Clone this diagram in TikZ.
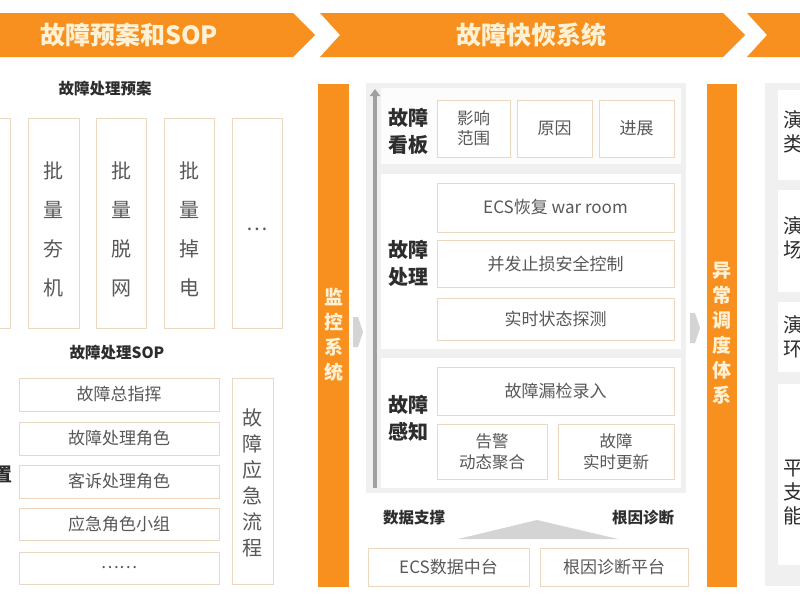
\documentclass[tikz,border=0pt]{standalone}
\usepackage{fontspec}
\setmainfont{Noto Sans CJK SC}
\usetikzlibrary{arrows.meta}
\definecolor{org}{RGB}{247,144,30}
\definecolor{cream}{RGB}{255,241,212}
\definecolor{bord}{RGB}{236,216,192}
\definecolor{txt}{RGB}{88,88,88}
\definecolor{dark}{RGB}{45,45,45}
\definecolor{pgray}{RGB}{240,240,240}
\definecolor{secbg}{RGB}{252,252,252}
\definecolor{agray}{RGB}{160,160,160}
\definecolor{lgray}{RGB}{212,212,212}
\begin{document}
\begin{tikzpicture}[x=1pt,y=-1pt,
  pbox/.style={draw=bord, line width=1pt, fill=white, inner sep=0pt},
  btext/.style={text=txt, font=\fontsize{17}{21}\selectfont, align=center, inner sep=0pt},
  vtext/.style={text=txt, font=\fontsize{20}{39}\selectfont, align=center, inner sep=0pt},
  htitle/.style={text=dark, font=\bfseries\fontsize{15.5}{18}\selectfont, inner sep=0pt},
  seclabel/.style={text=dark, font=\bfseries\fontsize{20}{27}\selectfont, align=center, inner sep=0pt},
  bartext/.style={text=cream, font=\bfseries\fontsize{19}{25}\selectfont, align=center, inner sep=0pt},
  bannertext/.style={text=cream, font=\bfseries\fontsize{25}{30}\selectfont, inner sep=0pt},
  orangebar/.style={fill=org, draw=none, inner sep=0pt},
  rtext/.style={text=dark, font=\fontsize{20}{24}\selectfont, align=center, inner sep=0pt}
]
\useasboundingbox (0,0) rectangle (800,600);
\clip (0,0) rectangle (800,600);
\fill[white] (0,0) rectangle (800,600);

% ---------- banners ----------
\fill[org] (-5,13) -- (293,13) -- (315,35) -- (293,57) -- (-5,57) -- cycle;
\fill[org] (320,13) -- (723,13) -- (745,35) -- (723,57) -- (320,57) -- (340,35) -- cycle;
\fill[org] (747,13) -- (810,13) -- (810,57) -- (747,57) -- (767,35) -- cycle;
\node[bannertext] (ban1) at (129,35) {故障预案和SOP};
\node[bannertext] (ban2) at (531,35) {故障快恢系统};

% ---------- left: 预案 ----------
\node[htitle] (yatitle) at (105,89) {故障处理预案};
\node[pbox, minimum width=40pt, minimum height=210pt] (c0) at (-10,223) {};
\node[pbox, minimum width=51pt, minimum height=210pt] (c1) at (53.5,223) {};
\node[pbox, minimum width=50pt, minimum height=210pt] (c2) at (121.5,223) {};
\node[pbox, minimum width=50pt, minimum height=210pt] (c3) at (189,223) {};
\node[pbox, minimum width=50pt, minimum height=210pt] (c4) at (257,223) {};
\node[vtext] (c1t) at (53.5,229) {批\\量\\夯\\机};
\node[vtext] (c2t) at (121.5,229) {批\\量\\脱\\网};
\node[vtext] (c3t) at (189,229) {批\\量\\掉\\电};
\node[vtext] (c4t) at (257,229) {…};

% ---------- left: SOP ----------
\node[htitle] (soptitle) at (117,353) {故障处理SOP};
\node[pbox, btext, minimum width=200pt, minimum height=33pt] (s1) at (119,394.5) {故障总指挥};
\node[pbox, btext, minimum width=200pt, minimum height=33pt] (s2) at (119,438.5) {故障处理角色};
\node[pbox, btext, minimum width=200pt, minimum height=33pt] (s3) at (119,481.5) {客诉处理角色};
\node[pbox, btext, minimum width=200pt, minimum height=32pt] (s4) at (119,524.5) {应急角色小组};
\node[pbox, btext, minimum width=200pt, minimum height=32pt] (s5) at (119,568) {……};
\node[pbox, minimum width=41pt, minimum height=206pt] (flow) at (252.5,481) {};
\node[text=txt, font=\fontsize{20}{26}\selectfont, align=center, inner sep=0pt] (flowt) at (252.5,483) {故\\障\\应\\急\\流\\程};
\node[text=dark, font=\bfseries\fontsize{19}{20}\selectfont, inner sep=0pt] (zhi) at (3,474) {置};

% ---------- middle: bars ----------
\node[orangebar, minimum width=31pt, minimum height=503pt] (mon) at (333.5,335.5) {};
\node[bartext] (mont) at (333.5,335) {监\\控\\系\\统};
\node[orangebar, minimum width=30pt, minimum height=503pt] (sch) at (722,335.5) {};
\node[bartext] (scht) at (722,333) {异\\常\\调\\度\\体\\系};
\fill[lgray] (353,317) -- (358,317) -- (363,332) -- (358,347) -- (353,347) -- cycle;
\fill[lgray] (690,313) -- (695,313) -- (700,328) -- (695,343) -- (690,343) -- cycle;

% ---------- middle: panel ----------
\fill[pgray] (366,83) rectangle (686,493);
\fill[secbg] (381,88) rectangle (681,164);
\fill[white] (381,174) rectangle (681,349);
\fill[white] (381,358) rectangle (681,488);
\coordinate (arrB) at (375,488);
\coordinate (arrT) at (375,89);
\draw[agray, line width=4pt, -{Triangle[width=10pt,length=7pt]}] (arrB) -- (arrT);

\node[seclabel] (l1) at (408,131) {故障\\看板};
\node[seclabel] (l2) at (408,263) {故障\\处理};
\node[seclabel] (l3) at (408,418) {故障\\感知};

\node[pbox, btext, minimum width=73pt, minimum height=57pt, font=\fontsize{16.5}{20}\selectfont] (b11) at (473.5,128.5) {影响\\范围};
\node[pbox, btext, minimum width=75pt, minimum height=57pt] (b12) at (554.5,128.5) {原因};
\node[pbox, btext, minimum width=75pt, minimum height=57pt] (b13) at (636.5,128.5) {进展};

\node[pbox, btext, minimum width=237pt, minimum height=49pt] (b21) at (555.5,207.5) {ECS恢复 war room};
\node[pbox, btext, minimum width=237pt, minimum height=47pt] (b22) at (555.5,263.5) {并发止损安全控制};
\node[pbox, btext, minimum width=237pt, minimum height=42pt] (b23) at (555.5,319) {实时状态探测};

\node[pbox, btext, minimum width=237pt, minimum height=48pt] (b31) at (555.5,391) {故障漏检录入};
\node[pbox, btext, minimum width=110pt, minimum height=55pt, font=\fontsize{16.5}{21}\selectfont] (b32) at (492,451.5) {告警\\动态聚合};
\node[pbox, btext, minimum width=116pt, minimum height=55pt, font=\fontsize{16.5}{21}\selectfont] (b33) at (616,451.5) {故障\\实时更新};

% ---------- middle: bottom ----------
\node[htitle] (dsup) at (414,518) {数据支撑};
\node[htitle] (rdiag) at (643,518) {根因诊断};
\fill[lgray] (458,539) -- (537,520) -- (618,539) -- cycle;
\node[pbox, btext, minimum width=161pt, minimum height=38pt] (ecsd) at (448.5,567) {ECS数据中台};
\node[pbox, btext, minimum width=148pt, minimum height=38pt] (rcp) at (614,567) {根因诊断平台};

% ---------- right panel (cut) ----------
\fill[pgray] (765,83) rectangle (810,586);
\fill[white] (778,90) rectangle (810,180);
\fill[white] (778,190) rectangle (810,292);
\fill[white] (778,302) rectangle (810,372);
\fill[white] (778,384) rectangle (810,565);
\node[rtext] (r1) at (793,132) {演\\类};
\node[rtext] (r2) at (793,238) {演\\场};
\node[rtext] (r3) at (793,337) {演\\环};
\node[rtext] (r4) at (793,493) {平\\支\\能};
\end{tikzpicture}
\end{document}
